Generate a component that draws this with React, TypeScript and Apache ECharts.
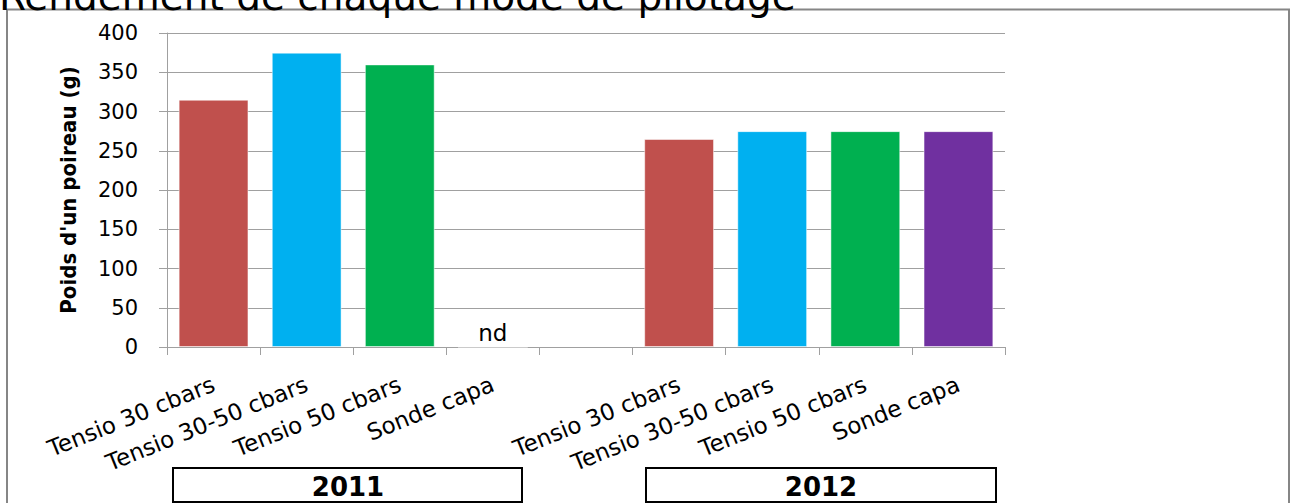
import React, { useEffect, useRef } from "react";
import * as echarts from "echarts";

const modes = ["Tensio 30 cbars", "Tensio 30-50 cbars", "Tensio 50 cbars", "Sonde capa"];
const years = ["2011", "2012"];
const values2011: (number | null)[] = [315, 375, 360, 0];
const values2012: (number | null)[] = [265, 275, 275, 275];
const labels2011 = ["", "", "", "nd"];
const modeColors = ["#C0504D", "#00B0F0", "#00B050", "#7030A0"];
const yTicks = { min: 0, max: 400, interval: 50 };
const title = "Rendement de chaque mode de pilotage";
const yName = "Poids d'un poireau (g)";

const FONT = "DejaVu Sans, Verdana, sans-serif";

export default function App() {
  const ref = useRef<HTMLDivElement>(null);
  useEffect(() => {
    if (!ref.current) return;
    const chart = echarts.init(ref.current, null, { renderer: "svg" });
    const categories = [...modes, "", ...modes];
    const data: any[] = [];
    values2011.forEach((v, i) => {
      data.push({
        value: v,
        itemStyle: { color: modeColors[i] },
        label: labels2011[i]
          ? { show: true, position: "top", formatter: labels2011[i], distance: 2, fontSize: 23, fontFamily: FONT, color: "#000" }
          : { show: false },
      });
    });
    data.push({ value: null });
    values2012.forEach((v, i) => {
      data.push({ value: v, itemStyle: { color: modeColors[i] } });
    });
    chart.setOption({
      animation: false,
      backgroundColor: "#fff",
      grid: { left: 167, right: 287, top: 33, bottom: 156, containLabel: false },
      xAxis: {
        type: "category",
        data: categories,
        axisLine: { show: true, lineStyle: { color: "#A0A0A0", width: 1 } },
        axisTick: { show: true, length: 8, lineStyle: { color: "#A0A0A0" } },
        axisLabel: { interval: 0, rotate: 22, fontSize: 23, fontFamily: FONT, color: "#000", margin: 36 },
      },
      yAxis: {
        type: "value",
        min: yTicks.min,
        max: yTicks.max,
        interval: yTicks.interval,
        name: yName,
        nameLocation: "middle",
        nameGap: 88,
        nameRotate: 90,
        nameTextStyle: { fontSize: 22, fontWeight: "bold", fontFamily: "Liberation Sans Narrow, DejaVu Sans Condensed, sans-serif", color: "#000" },
        axisLine: { show: true, lineStyle: { color: "#A0A0A0", width: 1 } },
        axisTick: { show: true, length: 8, lineStyle: { color: "#A0A0A0" } },
        axisLabel: { fontSize: 21, fontFamily: FONT, color: "#000", margin: 29 },
        splitLine: { show: true, lineStyle: { color: "#A0A0A0", width: 1 } },
      },
      series: [
        {
          type: "bar",
          data,
          barWidth: "75%",
          itemStyle: { borderColor: "rgba(255,255,255,0.5)", borderWidth: 1 },
        },
      ],
      graphic: [
        {
          type: "rect",
          shape: { x: 7, y: 9.5, width: 1282, height: 520 },
          style: { fill: "none", stroke: "#868686", lineWidth: 2 },
          silent: true,
        },
        {
          type: "text",
          x: -1,
          y: -4,
          style: { text: title, font: "39px 'DejaVu Sans'", fill: "#000", textVerticalAlign: "middle" },
        },
        {
          type: "rect",
          shape: { x: 173, y: 468, width: 349, height: 34 },
          style: { fill: "#fff", stroke: "#000", lineWidth: 2 },
        },
        {
          type: "text",
          x: 348,
          y: 487,
          style: { text: years[0], font: "bold 26px 'DejaVu Sans'", fill: "#000", textAlign: "center", textVerticalAlign: "middle" },
        },
        {
          type: "rect",
          shape: { x: 646, y: 468, width: 350, height: 34 },
          style: { fill: "#fff", stroke: "#000", lineWidth: 2 },
        },
        {
          type: "text",
          x: 821,
          y: 487,
          style: { text: years[1], font: "bold 26px 'DejaVu Sans'", fill: "#000", textAlign: "center", textVerticalAlign: "middle" },
        },
      ],
    });
    return () => chart.dispose();
  }, []);
  return <div ref={ref} style={{ position: "absolute", left: 0, top: 0, width: 1292, height: 503 }} />;
}
